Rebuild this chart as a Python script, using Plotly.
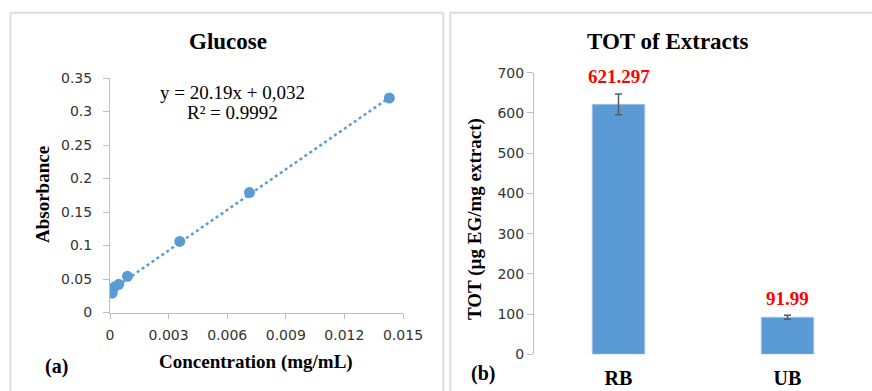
import plotly.graph_objects as go

# ---- Data ----
glucose_conc = [0.000112, 0.000223, 0.000446, 0.000893, 0.00357, 0.00714, 0.0143]
glucose_abs = [0.029, 0.038, 0.042, 0.054, 0.106, 0.179, 0.320]
slope = 20.19
intercept = 0.032
eq_text = "y = 20.19x + 0,032"
r2_text = "R² = 0.9992"

x_ticks_a = [0, 0.003, 0.006, 0.009, 0.012, 0.015]
x_ticklabels_a = ["0", "0.003", "0.006", "0.009", "0.012", "0.015"]
y_ticks_a = [0, 0.05, 0.1, 0.15, 0.2, 0.25, 0.3, 0.35]
y_ticklabels_a = ["0", "0.05", "0.1", "0.15", "0.2", "0.25", "0.3", "0.35"]

extracts = ["RB", "UB"]
tot_values = [621.297, 91.99]
tot_errors = [26, 5]
tot_labels = ["621.297", "91.99"]
y_ticks_b = [0, 100, 200, 300, 400, 500, 600, 700]

W, H = 872, 391
def px(x):
    return x / W
def py(y):
    return 1 - y / H

blue = "#5b9bd5"
axis_grey = "#bfbfbf"
tick_font = dict(family="DejaVu Sans", size=14, color="#333333")
serif = "Liberation Serif"

fig = go.Figure()

# Trendline
x_line = [glucose_conc[0], glucose_conc[-1]]
y_line = [slope * v + intercept for v in x_line]
fig.add_trace(go.Scatter(x=x_line, y=y_line, mode="lines",
                         line=dict(color=blue, width=2.5, dash="dot"),
                         xaxis="x", yaxis="y", showlegend=False, hoverinfo="skip"))
fig.add_trace(go.Scatter(x=glucose_conc, y=glucose_abs, mode="markers",
                         marker=dict(color=blue, size=11),
                         xaxis="x", yaxis="y", showlegend=False))

# Bars
fig.add_trace(go.Bar(x=extracts, y=tot_values, width=0.31,
                     marker=dict(color=blue, line=dict(color="#9dc3e6", width=1)),
                     error_y=dict(type="data", array=tot_errors, color="#595959",
                                  thickness=1.5, width=3.5),
                     xaxis="x2", yaxis="y2", showlegend=False))

fig.update_layout(
    width=W, height=H,
    margin=dict(l=0, r=0, t=0, b=0),
    paper_bgcolor="white", plot_bgcolor="white",
    xaxis=dict(domain=[px(110), px(403)], range=[0, 0.015], anchor="y",
               tickvals=x_ticks_a, ticktext=x_ticklabels_a,
               showgrid=False, zeroline=False, showline=True, linecolor=axis_grey, linewidth=1,
               ticks="outside", ticklen=5, tickcolor=axis_grey, tickfont=tick_font,
               ticklabelstandoff=5, automargin=False),
    yaxis=dict(domain=[py(312.5), py(78)], range=[0, 0.35], anchor="x",
               tickvals=y_ticks_a, ticktext=y_ticklabels_a,
               showgrid=False, zeroline=False, showline=True, linecolor=axis_grey, linewidth=1,
               ticks="outside", ticklen=6, tickcolor=axis_grey, tickfont=tick_font,
               ticklabelstandoff=8, automargin=False),
    xaxis2=dict(domain=[px(534), 1.0], range=[-0.5, 1.5], anchor="y2",
                type="category", showgrid=False, zeroline=False, showline=False, ticks="",
                tickfont=dict(family=serif, size=20, color="black", weight="bold"),
                ticklabelstandoff=10, automargin=False),
    yaxis2=dict(domain=[py(354.3), py(72.7)], range=[0, 700], anchor="x2",
                tickvals=y_ticks_b,
                showgrid=False, zeroline=False, showline=True, linecolor=axis_grey, linewidth=1,
                ticks="outside", ticklen=6, tickcolor=axis_grey, tickfont=tick_font,
                ticklabelstandoff=0, automargin=False),
)

ann = []
def add_text(text, x, y, size, bold=True, color="black", angle=0):
    ann.append(dict(text=text, x=px(x), y=py(y), xref="paper", yref="paper",
                    showarrow=False, xanchor="center", yanchor="middle", textangle=angle,
                    font=dict(family=serif, size=size, color=color,
                              weight="bold" if bold else "normal")))

add_text("Glucose", 227.7, 42, 23)
add_text("TOT of Extracts", 667.7, 41.7, 23)
add_text(eq_text, 232, 92, 19, bold=False)
add_text(r2_text, 232, 112, 19, bold=False)
add_text("Absorbance", 42, 195, 19, angle=-90)
add_text("Concentration (mg/mL)", 255.7, 361.7, 19)
add_text("(a)", 56.7, 366.7, 20)
add_text("(b)", 482.7, 373.3, 20)
add_text("TOT (µg EG/mg extract)", 475, 219, 19, angle=-90)

for cat, val, err, lab in zip(extracts, tot_values, tot_errors, tot_labels):
    ann.append(dict(text=lab, x=cat, y=val + err, xref="x2", yref="y2",
                    showarrow=False, xanchor="center", yanchor="middle", yshift=17,
                    font=dict(family=serif, size=19, color="#ff0000", weight="bold")))

fig.update_layout(annotations=ann)

# Panel frames (kept inside the paper)
frame = dict(color="#dcdcdc", width=2)
segments = [
    (10.5, 391, 10.5, 12.7), (10.5, 12.7, 443.3, 12.7), (443.3, 12.7, 443.3, 391),
    (450.3, 391, 450.3, 12.7), (450.3, 12.7, 872, 12.7),
]
for x0, y0, x1, y1 in segments:
    fig.add_shape(type="line", xref="paper", yref="paper",
                  x0=px(x0), y0=py(y0), x1=px(x1), y1=py(y1), line=frame, layer="below")

fig.write_html("out.html", config={"displayModeBar": False},
               post_script="document.body.style.margin='0';document.body.style.overflow='hidden';")
